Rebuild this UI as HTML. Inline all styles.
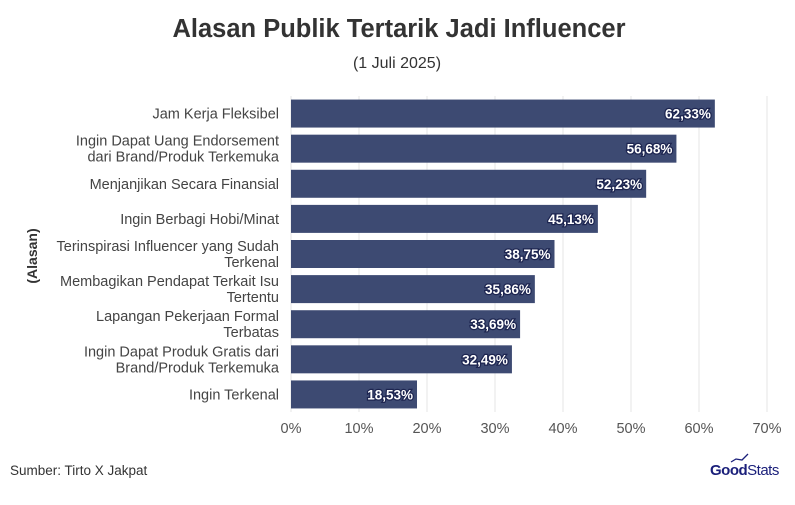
<!DOCTYPE html>
<html><head><meta charset="utf-8"><style>
body{margin:0;background:#fff;width:795px;height:500px;overflow:hidden;font-family:"Liberation Sans",sans-serif}
</style></head><body>
<svg id="c" width="795" height="500" xmlns="http://www.w3.org/2000/svg">
<text x="399" y="37" text-anchor="middle" font-size="25.5" font-weight="bold" fill="#333">Alasan Publik Tertarik Jadi Influencer</text>
<text x="397" y="68" text-anchor="middle" font-size="16" fill="#333">(1 Juli 2025)</text>
<text transform="translate(37,256) rotate(-90)" text-anchor="middle" font-size="14" font-weight="bold" fill="#333">(Alasan)</text>
<text x="10" y="475" font-size="13.5" fill="#333">Sumber: Tirto X Jakpat</text>
<g>
<text x="710" y="475" font-size="15" fill="#1a1f7a" font-weight="bold" letter-spacing="-0.5">Good<tspan font-weight="normal">Stats</tspan></text>
<polyline points="731,462 736,459 742,460 748,454" fill="none" stroke="#1a1f7a" stroke-width="1.3"/>
</g>
<g id="grid"></g><g id="bars"></g><g id="ticks"></g><g id="cats"></g>
</svg>
<script>
const categories=[["Jam Kerja Fleksibel"],["Ingin Dapat Uang Endorsement","dari Brand/Produk Terkemuka"],["Menjanjikan Secara Finansial"],["Ingin Berbagi Hobi/Minat"],["Terinspirasi Influencer yang Sudah","Terkenal"],["Membagikan Pendapat Terkait Isu","Tertentu"],["Lapangan Pekerjaan Formal","Terbatas"],["Ingin Dapat Produk Gratis dari","Brand/Produk Terkemuka"],["Ingin Terkenal"]];
const values=[62.33,56.68,52.23,45.13,38.75,35.86,33.69,32.49,18.53];
const valueLabels=["62,33%","56,68%","52,23%","45,13%","38,75%","35,86%","33,69%","32,49%","18,53%"];
const tickValues=[0,10,20,30,40,50,60,70];
const tickLabels=["0%","10%","20%","30%","40%","50%","60%","70%"];
const NS="http://www.w3.org/2000/svg";
const x0=291,x1=767,yTop=96,yBot=412;
const xs=v=>x0+(v/70)*(x1-x0);
const band=(yBot-yTop)/categories.length;
const yc=i=>yTop+band*(i+0.5);
function mk(t,a,p){const e=document.createElementNS(NS,t);for(const k in a)e.setAttribute(k,a[k]);p.appendChild(e);return e;}
const g=document.getElementById('grid'),b=document.getElementById('bars'),tk=document.getElementById('ticks'),ct=document.getElementById('cats');
tickValues.forEach((v,i)=>{
 const l=mk('line',{x1:xs(v),x2:xs(v),y1:yTop,y2:yBot,stroke:'#e6e6e6','stroke-width':1},g);
 
 
 const t=mk('text',{x:xs(v),y:433,'text-anchor':'middle','font-size':14.5,fill:'#555'},tk);
 t.textContent=tickLabels[i];
 
 
});
values.forEach((v,i)=>{
 const r=mk('rect',{x:x0,y:yc(i)-14,width:xs(v)-x0,height:28,fill:'#3d4a72'},b);
 
 
 const t=mk('text',{x:xs(v)-4,y:yc(i)+5,'text-anchor':'end','font-size':13.5,'font-weight':'bold',fill:'#fff',stroke:'#1d2550','stroke-width':2.5,'paint-order':'stroke'},b);
 t.textContent=valueLabels[i];
 
 
 const lines=categories[i];
 lines.forEach((s,j)=>{
  const c=mk('text',{x:279,y:yc(i)+5+(j-(lines.length-1)/2)*16,'text-anchor':'end','font-size':14.5,fill:'#444'},ct);
  c.textContent=s;
  
  
 });
});
</script>
</body></html>
